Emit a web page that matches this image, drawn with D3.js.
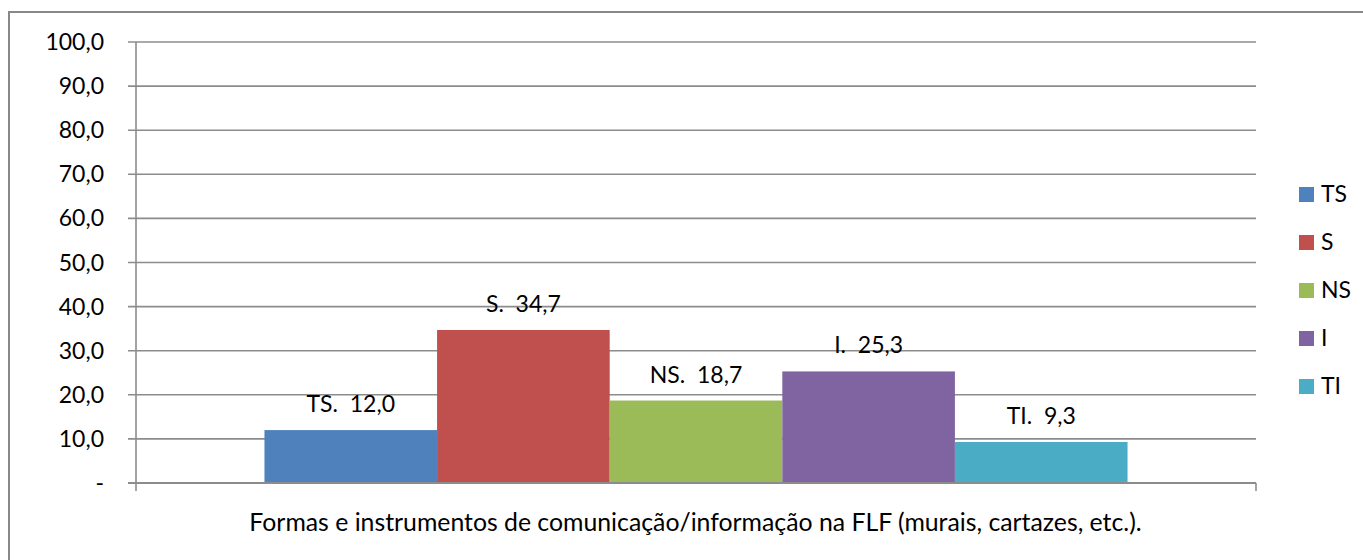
<!DOCTYPE html>
<html>
<head>
<meta charset="utf-8">
<script src="https://cdn.jsdelivr.net/npm/d3@7"></script>
<style>
  body { margin: 0; background: #fff; }
  svg text { font-family: Lato, "Open Sans", sans-serif; fill: #000; white-space: pre; }
</style>
</head>
<body>
<div id="chart"></div>
<script>
let categories = ['TS', 'S', 'NS', 'I', 'TI']
let values = [12.0, 34.7, 18.7, 25.3, 9.3]
let colors = ['#4F81BD', '#C0504D', '#9BBB59', '#8064A2', '#4BACC6']
let yTicks = [0, 10, 20, 30, 40, 50, 60, 70, 80, 90, 100]
let xTitle = 'Formas e instrumentos de comunicação/informação na FLF (murais, cartazes, etc.).'

let width = 1363, height = 560
let plot = { left: 136, right: 1256, top: 42, bottom: 483 }

let svg = d3.select('#chart')
  .append('svg')
  .attr('width', width)
  .attr('height', height)

// outer frame (right/bottom side cut off in the original)
svg.append('rect')
  .attr('x', 9).attr('y', 12)
  .attr('width', 1370).attr('height', 570)
  .attr('fill', 'none')
  .attr('stroke', '#888')
  .attr('stroke-width', 2)

let y = d3.scaleLinear().domain([0, 100]).range([plot.bottom, plot.top])

// bars sit in the middle of the single category group
let groupWidth = plot.right - plot.left
let x = d3.scaleBand()
  .domain(categories)
  .range([plot.left + groupWidth * 0.1147, plot.right - groupWidth * 0.1147])
  .padding(0)

let fmt = v => v === 0 ? '-' : d3.format('.1f')(v).replace('.', ',')

// gridlines + y ticks
svg.append('g')
  .selectAll('line')
  .data(yTicks)
  .enter()
  .append('line')
  .attr('x1', plot.left - 8)
  .attr('x2', plot.right)
  .attr('y1', d => y(d))
  .attr('y2', d => y(d))
  .attr('stroke', '#8c8c8c')
  .attr('stroke-width', 1.6)

svg.append('g')
  .selectAll('text')
  .data(yTicks)
  .enter()
  .append('text')
  .attr('x', 104)
  .attr('y', d => y(d) + 8)
  .attr('text-anchor', 'end')
  .attr('font-size', 23)
  .text(fmt)

// bars
svg.append('g')
  .selectAll('rect')
  .data(categories)
  .enter()
  .append('rect')
  .attr('x', d => x(d))
  .attr('width', x.bandwidth())
  .attr('y', (d, i) => y(values[i]))
  .attr('height', (d, i) => y(0) - y(values[i]))
  .attr('fill', (d, i) => colors[i])

// value labels
svg.append('g')
  .selectAll('text')
  .data(categories)
  .enter()
  .append('text')
  .attr('x', d => x(d) + x.bandwidth() / 2)
  .attr('y', (d, i) => y(values[i]) - 18)
  .attr('text-anchor', 'middle')
  .attr('font-size', 23)
  .text((d, i) => d + '.  ' + fmt(values[i]))

// axes
svg.append('line')
  .attr('x1', plot.left).attr('x2', plot.left)
  .attr('y1', plot.top).attr('y2', plot.bottom + 8)
  .attr('stroke', '#8c8c8c').attr('stroke-width', 1.6)
svg.append('line')
  .attr('x1', plot.left - 8).attr('x2', plot.right)
  .attr('y1', plot.bottom).attr('y2', plot.bottom)
  .attr('stroke', '#8c8c8c').attr('stroke-width', 2.2)
svg.append('line')
  .attr('x1', plot.right).attr('x2', plot.right)
  .attr('y1', plot.bottom).attr('y2', plot.bottom + 8)
  .attr('stroke', '#8c8c8c').attr('stroke-width', 1.6)

svg.append('text')
  .attr('x', 695.5)
  .attr('y', 531)
  .attr('text-anchor', 'middle')
  .attr('font-size', 24.8)
  .text(xTitle)

// legend
let legend = svg.append('g')
  .selectAll('g')
  .data(categories)
  .enter()
  .append('g')
  .attr('transform', (d, i) => 'translate(1299,' + (187 + i * 48) + ')')

legend.append('rect')
  .attr('width', 15).attr('height', 15)
  .attr('fill', (d, i) => colors[i])

legend.append('text')
  .attr('x', 22)
  .attr('y', 15)
  .attr('font-size', 23)
  .text(d => d)
</script>
</body>
</html>
